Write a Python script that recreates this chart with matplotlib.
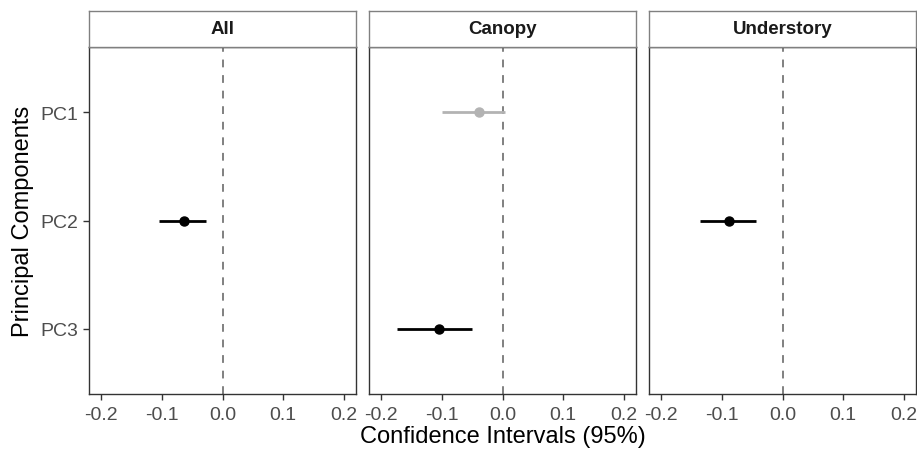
import matplotlib.pyplot as plt

plt.rcParams['font.family'] = ['Liberation Sans', 'DejaVu Sans']

# data
groups = ['All', 'Canopy', 'Understory']
components = ['PC1', 'PC2', 'PC3']

pcs = {
    'All': ['PC2'],
    'Canopy': ['PC1', 'PC3'],
    'Understory': ['PC2'],
}
estimate = {
    'All': [-0.064],
    'Canopy': [-0.039, -0.105],
    'Understory': [-0.088],
}
lower = {
    'All': [-0.104],
    'Canopy': [-0.099, -0.174],
    'Understory': [-0.136],
}
upper = {
    'All': [-0.028],
    'Canopy': [0.004, -0.050],
    'Understory': [-0.044],
}
# grey = interval crosses zero
signif = {
    'All': [True],
    'Canopy': [False, True],
    'Understory': [True],
}

xticks = [-0.2, -0.1, 0.0, 0.1, 0.2]

W, H = 917, 452
fig = plt.figure(figsize=(W / 100, H / 100), dpi=100)

lefts = [89, 369, 649]
pw = 267
top, strip_bot, bot = 12, 48, 395

for i, g in enumerate(groups):
    ax = fig.add_axes([lefts[i] / W, (H - bot) / H, pw / W, (bot - strip_bot) / H])
    ax.axvline(0, color='#808080', ls=(0, (4, 4)), lw=1.4, zorder=1)
    for pc, est, lo, hi, s in zip(pcs[g], estimate[g], lower[g], upper[g], signif[g]):
        yv = components.index(pc) + 1
        col = 'black' if s else '#b3b3b3'
        ax.plot([lo, hi], [yv, yv], color=col, lw=2, solid_capstyle='butt', zorder=2)
        ax.plot(est, yv, 'o', color=col, ms=6.5, zorder=3)
    ax.set_xlim(-0.22, 0.22)
    ax.set_ylim(3.6, 0.4)
    ax.set_xticks(xticks)
    ax.set_xticklabels(['%.1f' % t for t in xticks])
    ax.set_yticks([1, 2, 3])
    ax.tick_params(colors='#333333', labelcolor='#4d4d4d', labelsize=14, width=1, length=4)
    ax.tick_params(axis='x', pad=5)
    if i == 0:
        ax.set_yticklabels(components)
        ax.set_ylabel('Principal Components', fontsize=17, color='black', labelpad=5)
    else:
        ax.set_yticklabels([])
        ax.tick_params(axis='y', length=0)
    for sp in ax.spines.values():
        sp.set_color('#333333')
        sp.set_linewidth(1)

    # facet strip
    sax = fig.add_axes([lefts[i] / W, (H - strip_bot) / H, pw / W, (strip_bot - top) / H])
    sax.set_xticks([])
    sax.set_yticks([])
    for sp in sax.spines.values():
        sp.set_color('#808080')
        sp.set_linewidth(1)
    sax.text(0.5, 0.5, g, ha='center', va='center', fontsize=13.5, fontweight='bold',
             color='#1a1a1a', transform=sax.transAxes)

fig.text((89 + 916) / 2 / W, 15 / H, 'Confidence Intervals (95%)', ha='center', va='center',
         fontsize=17, color='black')

plt.savefig('out.png', dpi=100)
plt.close()
